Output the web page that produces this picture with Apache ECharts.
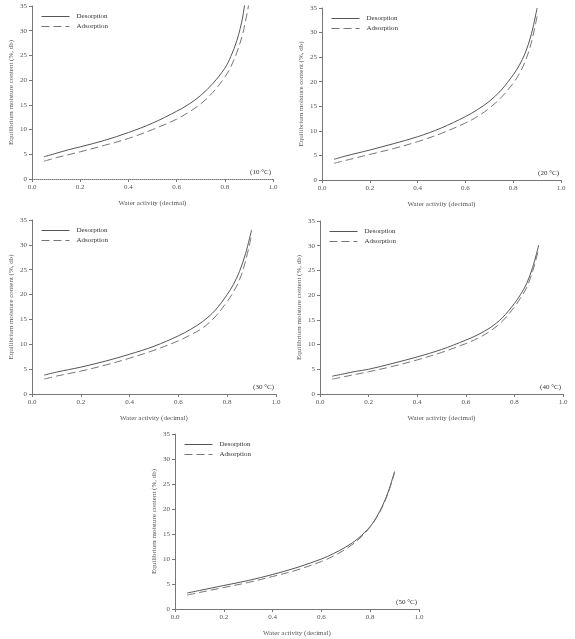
<!DOCTYPE html>
<html>
<head>
<meta charset="utf-8">
<script src="https://cdn.jsdelivr.net/npm/echarts@6/dist/echarts.min.js"></script>
<style>
  html, body { margin: 0; padding: 0; background: #fff; }
  #chart { width: 575px; height: 639px; }
</style>
</head>
<body>
<div id="chart"></div>
<script>
// 水分活度 (x 轴)
const aw = [0.05, 0.1, 0.15, 0.2, 0.3, 0.4, 0.5, 0.6, 0.65, 0.7, 0.75, 0.8, 0.825, 0.85, 0.875, 0.9]

// 各温度下的解吸 / 吸附数据
const temps = ['(10 °C)', '(20 °C)', '(30 °C)', '(40 °C)', '(50 °C)']
const desorption10 = [4.5, 5.2, 5.9, 6.5, 7.8, 9.4, 11.3, 13.7, 15.1, 16.9, 19.3, 22.4, 24.8, 28.0, 33.0, 42.0]
const adsorption10 = [3.6, 4.3, 4.9, 5.5, 6.8, 8.2, 10.0, 12.1, 13.5, 15.2, 17.5, 20.6, 22.7, 25.6, 29.5, 35.5]
const desorption20 = [4.2, 4.9, 5.5, 6.1, 7.4, 8.8, 10.6, 12.9, 14.3, 16.0, 18.3, 21.4, 23.3, 25.8, 29.5, 35.0]
const adsorption20 = [3.4, 4.0, 4.6, 5.2, 6.4, 7.8, 9.5, 11.6, 12.9, 14.6, 16.8, 19.7, 21.6, 24.1, 27.8, 33.3]
const desorption30 = [3.8, 4.4, 4.9, 5.4, 6.6, 8.0, 9.6, 11.7, 13.0, 14.6, 16.8, 20.0, 22.0, 24.6, 28.2, 33.0]
const adsorption30 = [3.0, 3.6, 4.1, 4.6, 5.8, 7.2, 8.8, 10.7, 11.9, 13.3, 15.5, 18.6, 20.5, 22.9, 26.7, 32.0]
const desorption40 = [3.6, 4.1, 4.6, 5.0, 6.2, 7.5, 9.0, 10.9, 12.0, 13.4, 15.4, 18.3, 20.1, 22.3, 25.6, 30.1]
const adsorption40 = [3.0, 3.5, 4.0, 4.5, 5.6, 6.9, 8.4, 10.2, 11.3, 12.7, 14.7, 17.6, 19.4, 21.5, 24.8, 29.4]
const desorption50 = [3.2, 3.7, 4.2, 4.7, 5.7, 6.9, 8.3, 10.0, 11.1, 12.4, 14.1, 16.5, 18.3, 20.6, 23.6, 27.5]
const adsorption50 = [2.8, 3.3, 3.8, 4.3, 5.3, 6.5, 7.8, 9.5, 10.6, 12.0, 13.8, 16.4, 18.2, 20.4, 23.4, 27.3]

const desorption = [desorption10, desorption20, desorption30, desorption40, desorption50]
const adsorption = [adsorption10, adsorption20, adsorption30, adsorption40, adsorption50]

const xTicks = ['0.0', '0.2', '0.4', '0.6', '0.8', '1.0']
const yTicks = [0, 5, 10, 15, 20, 25, 30, 35]

;(function () {
  let myChart = echarts.init(document.getElementById('chart'))
  const font = '"Liberation Serif", "Times New Roman", serif'
  const txt = '#555'
  const axisCol = '#777'

  // 每个子图的像素位置 (left, top, 宽, 高)
  const boxes = [
    [32, 6, 241, 173],
    [322, 8, 239, 172],
    [32, 220, 244, 174],
    [320, 221, 243, 173],
    [175, 434, 244, 175]
  ]

  let grid = [], xAxis = [], yAxis = [], series = [], legend = [], graphic = []

  boxes.forEach(function (b, i) {
    grid.push({ left: b[0], top: b[1], width: b[2], height: b[3] })
    xAxis.push({
      type: 'value', gridIndex: i, min: 0, max: 1, interval: 0.2,
      name: 'Water activity (decimal)', nameLocation: 'middle', nameGap: 21,
      nameTextStyle: { fontFamily: font, fontSize: 7, color: txt },
      axisLine: { lineStyle: { color: axisCol, width: 1, type: i === 0 ? 'dotted' : 'solid' } },
      axisTick: { length: 3, lineStyle: { color: axisCol } },
      axisLabel: {
        fontFamily: font, fontSize: 7, color: txt, margin: 5,
        formatter: function (v) { return xTicks[Math.round(v / 0.2)] }
      },
      splitLine: { show: false }
    })
    yAxis.push({
      type: 'value', gridIndex: i, min: 0, max: 35, interval: 5,
      name: 'Equilibrium moisture content (%, db)', nameLocation: 'middle', nameGap: 17,
      nameTextStyle: { fontFamily: font, fontSize: 7, color: txt },
      axisLine: { show: true, lineStyle: { color: axisCol, width: 1 } },
      axisTick: { show: true, length: 3, lineStyle: { color: axisCol } },
      axisLabel: {
        fontFamily: font, fontSize: 7, color: txt, margin: 5,
        formatter: function (v) { return yTicks.indexOf(v) >= 0 ? String(v) : '' }
      },
      splitLine: { show: false }
    })
    series.push({
      name: 'Desorption', type: 'line', xAxisIndex: i, yAxisIndex: i,
      symbol: 'none', smooth: 0.35, clip: true,
      lineStyle: { color: '#555', width: 1 },
      itemStyle: { color: '#555' },
      data: aw.map(function (x, k) { return [x, desorption[i][k]] })
    })
    series.push({
      name: 'Adsorption', type: 'line', xAxisIndex: i, yAxisIndex: i,
      symbol: 'none', smooth: 0.35, clip: true,
      lineStyle: { color: '#777', width: 1, type: [8, 4] },
      itemStyle: { color: '#777' },
      data: aw.map(function (x, k) { return [x, adsorption[i][k]] })
    })
    legend.push({
      data: ['Desorption', 'Adsorption'],
      orient: 'vertical', left: b[0] + 9, top: b[1] + 7, padding: 0,
      itemWidth: 28, itemHeight: 6, itemGap: 3,
      selectedMode: false,
      itemStyle: { opacity: 0 },
      lineStyle: { width: 1 },
      textStyle: { fontFamily: font, fontSize: 7, color: '#333', padding: [0, 0, 0, 2] }
    })
    graphic.push({
      type: 'text', right: 575 - (b[0] + b[2]) + 2, top: b[1] + b[3] - 10,
      style: { text: temps[i], font: '7px "Liberation Serif"', fill: '#333' }
    })
  })

  let option = {
    backgroundColor: '#fff',
    animation: false,
    grid: grid,
    xAxis: xAxis,
    yAxis: yAxis,
    legend: legend,
    graphic: graphic,
    series: series
  }
  myChart.setOption(option)

  window.addEventListener('resize', function () {
    myChart.resize()
  })
})();
</script>
</body>
</html>
